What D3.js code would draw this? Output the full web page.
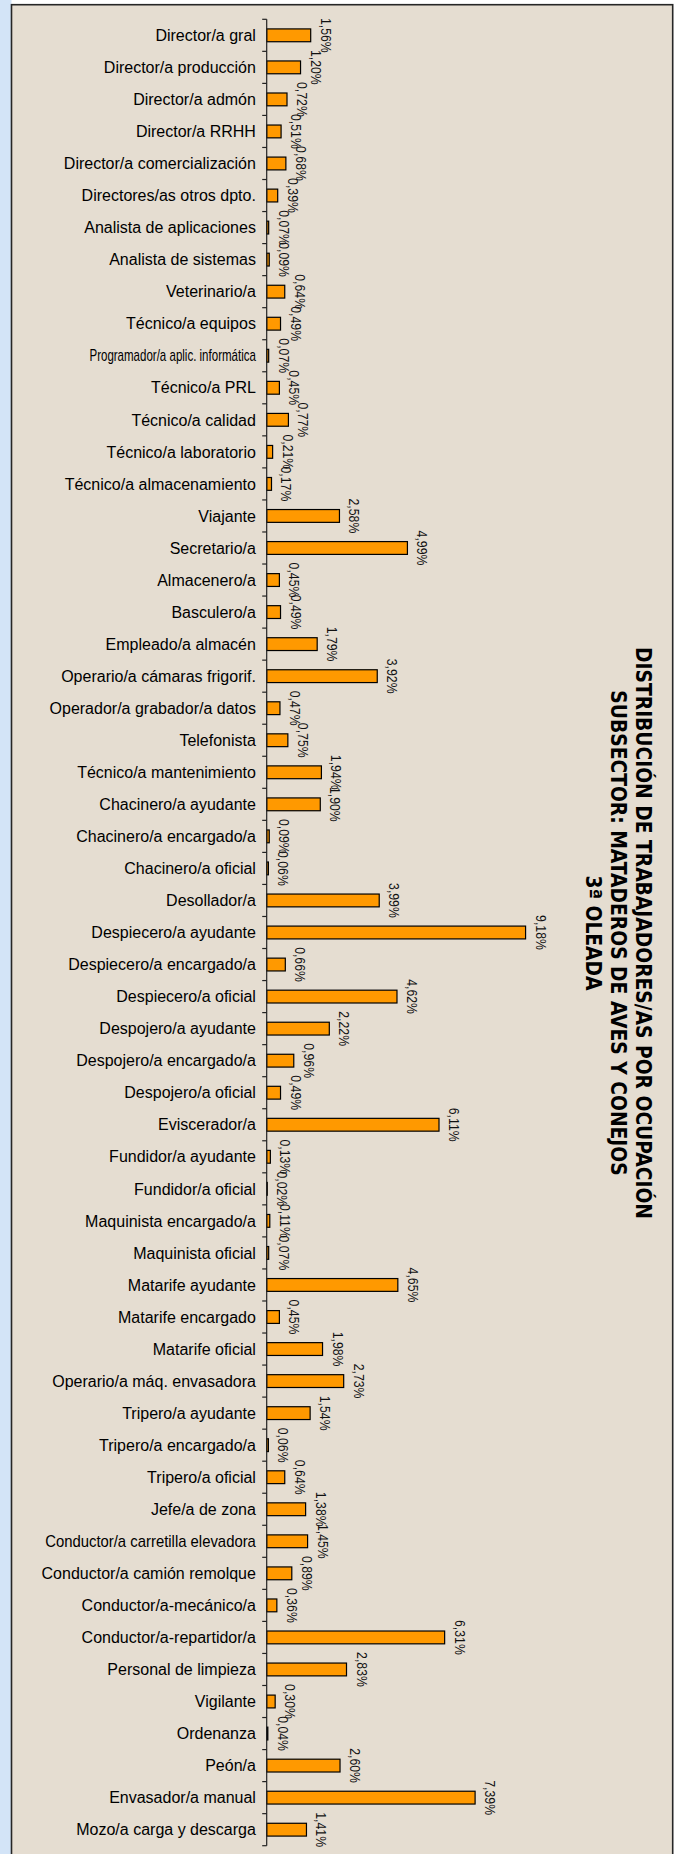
<!DOCTYPE html>
<html>
<head>
<meta charset="utf-8">
<script src="https://cdn.jsdelivr.net/npm/d3@7"></script>
<style>
  html, body { margin: 0; padding: 0; background: #ffffff; }
  svg { display: block; }
</style>
</head>
<body>
<svg id="chart" width="681" height="1854"></svg>
<script>
const categories = [
  "Director/a gral", "Director/a producción", "Director/a admón", "Director/a RRHH",
  "Director/a comercialización", "Directores/as otros dpto.", "Analista de aplicaciones",
  "Analista de sistemas", "Veterinario/a", "Técnico/a equipos", "Programador/a aplic. informática",
  "Técnico/a PRL", "Técnico/a calidad", "Técnico/a laboratorio", "Técnico/a almacenamiento",
  "Viajante", "Secretario/a", "Almacenero/a", "Basculero/a", "Empleado/a almacén",
  "Operario/a cámaras frigorif.", "Operador/a grabador/a datos", "Telefonista",
  "Técnico/a mantenimiento", "Chacinero/a ayudante", "Chacinero/a encargado/a",
  "Chacinero/a oficial", "Desollador/a", "Despiecero/a ayudante", "Despiecero/a encargado/a",
  "Despiecero/a oficial", "Despojero/a ayudante", "Despojero/a encargado/a", "Despojero/a oficial",
  "Eviscerador/a", "Fundidor/a ayudante", "Fundidor/a oficial", "Maquinista encargado/a",
  "Maquinista oficial", "Matarife ayudante", "Matarife encargado", "Matarife oficial",
  "Operario/a máq. envasadora", "Tripero/a ayudante", "Tripero/a encargado/a", "Tripero/a oficial",
  "Jefe/a de zona", "Conductor/a carretilla elevadora", "Conductor/a camión remolque",
  "Conductor/a-mecánico/a", "Conductor/a-repartidor/a", "Personal de limpieza", "Vigilante",
  "Ordenanza", "Peón/a", "Envasador/a manual", "Mozo/a carga y descarga"
];

const values = [
  1.56, 1.20, 0.72, 0.51,
  0.68, 0.39, 0.07,
  0.09, 0.64, 0.49, 0.07,
  0.45, 0.77, 0.21, 0.17,
  2.58, 4.99, 0.45, 0.49, 1.79,
  3.92, 0.47, 0.75,
  1.94, 1.90, 0.09,
  0.06, 3.99, 9.18, 0.66,
  4.62, 2.22, 0.96, 0.49,
  6.11, 0.13, 0.02, 0.11,
  0.07, 4.65, 0.45, 1.98,
  2.73, 1.54, 0.06, 0.64,
  1.38, 1.45, 0.89,
  0.36, 6.31, 2.83, 0.30,
  0.04, 2.60, 7.39, 1.41
];

const titleLines = [
  "DISTRIBUCIÓN DE TRABAJADORES/AS POR OCUPACIÓN",
  "SUBSECTOR: MATADEROS DE AVES Y CONEJOS",
  "3ª OLEADA"
];

const data = categories.map((c, i) => ({ cat: c, val: values[i] }));

const W = 681, H = 1854;
const svg = d3.select("#chart");

// page pieces: blue strip at left, parchment chart area with frame
svg.append("rect").attr("x", 0).attr("y", 0).attr("width", 11.5).attr("height", H)
  .attr("fill", "#d3e4f7");
svg.append("rect").attr("x", 11.5).attr("y", 4.7).attr("width", 661.2).attr("height", H + 10)
  .attr("fill", "#e5ddd1").attr("stroke", "#262626").attr("stroke-width", 1.6);

const axisX = 266.7;
const x = d3.scaleLinear().domain([0, 10]).range([axisX, axisX + 282]);
const y = d3.scaleBand().domain(categories).range([19.3, 1845.7])
  .paddingInner(0.6).paddingOuter(0.3);
const step = y.step();
const bh = y.bandwidth();

const locale = d3.formatLocale({ decimal: ",", thousands: ".", grouping: [3], currency: ["", "€"] });
const fmt = v => locale.format(".2f")(v) + "%";

// bars
svg.append("g").selectAll("rect").data(data).join("rect")
  .attr("x", x(0))
  .attr("y", d => y(d.cat))
  .attr("width", d => x(d.val) - x(0))
  .attr("height", bh)
  .attr("fill", "#ff9900")
  .attr("stroke", "#000")
  .attr("stroke-width", 1.2);

// axis line and ticks at band boundaries
const [r0, r1] = y.range();
svg.append("line").attr("x1", axisX).attr("x2", axisX).attr("y1", r0).attr("y2", r1)
  .attr("stroke", "#222").attr("stroke-width", 1.2);
const boundaries = d3.range(categories.length + 1).map(i => r0 + i * step);
svg.append("g").selectAll("line").data(boundaries).join("line")
  .attr("x1", axisX - 4.5).attr("x2", axisX)
  .attr("y1", d => d).attr("y2", d => d)
  .attr("stroke", "#222").attr("stroke-width", 1.2);

// category labels (long ones are squeezed in the original)
const squeeze = { "Programador/a aplic. informática": 0.72, "Conductor/a carretilla elevadora": 0.93 };
svg.append("g").selectAll("text").data(data).join("text")
  .attr("transform", d => `translate(${axisX - 10.8},${y(d.cat) + bh / 2 + 5.7}) scale(${squeeze[d.cat] || 1},1)`)
  .attr("text-anchor", "end")
  .attr("font-family", "'Liberation Sans', Arial, sans-serif")
  .attr("font-size", 16)
  .attr("fill", "#000")
  .text(d => d.cat);

// value labels, rotated
svg.append("g").selectAll("text").data(data).join("text")
  .attr("transform", d => `translate(${x(d.val) + 10},${y(d.cat) + bh / 2}) rotate(90) scale(0.82,1)`)
  .attr("text-anchor", "middle")
  .attr("font-family", "'Liberation Sans', Arial, sans-serif")
  .attr("font-size", 15)
  .attr("fill", "#111")
  .text(d => fmt(d.val));

// title, rotated
const titleBase = [636, 611, 586];
const titleMid = 933;
svg.append("g").selectAll("text").data(titleLines).join("text")
  .attr("transform", (d, i) => `translate(${titleBase[i]},${titleMid}) rotate(90) scale(0.85,1)`)
  .attr("text-anchor", "middle")
  .attr("font-family", "'DejaVu Sans', Verdana, sans-serif")
  .attr("font-weight", "bold")
  .attr("font-size", 22)
  .attr("fill", "#000")
  .text(d => d);
</script>
</body>
</html>
